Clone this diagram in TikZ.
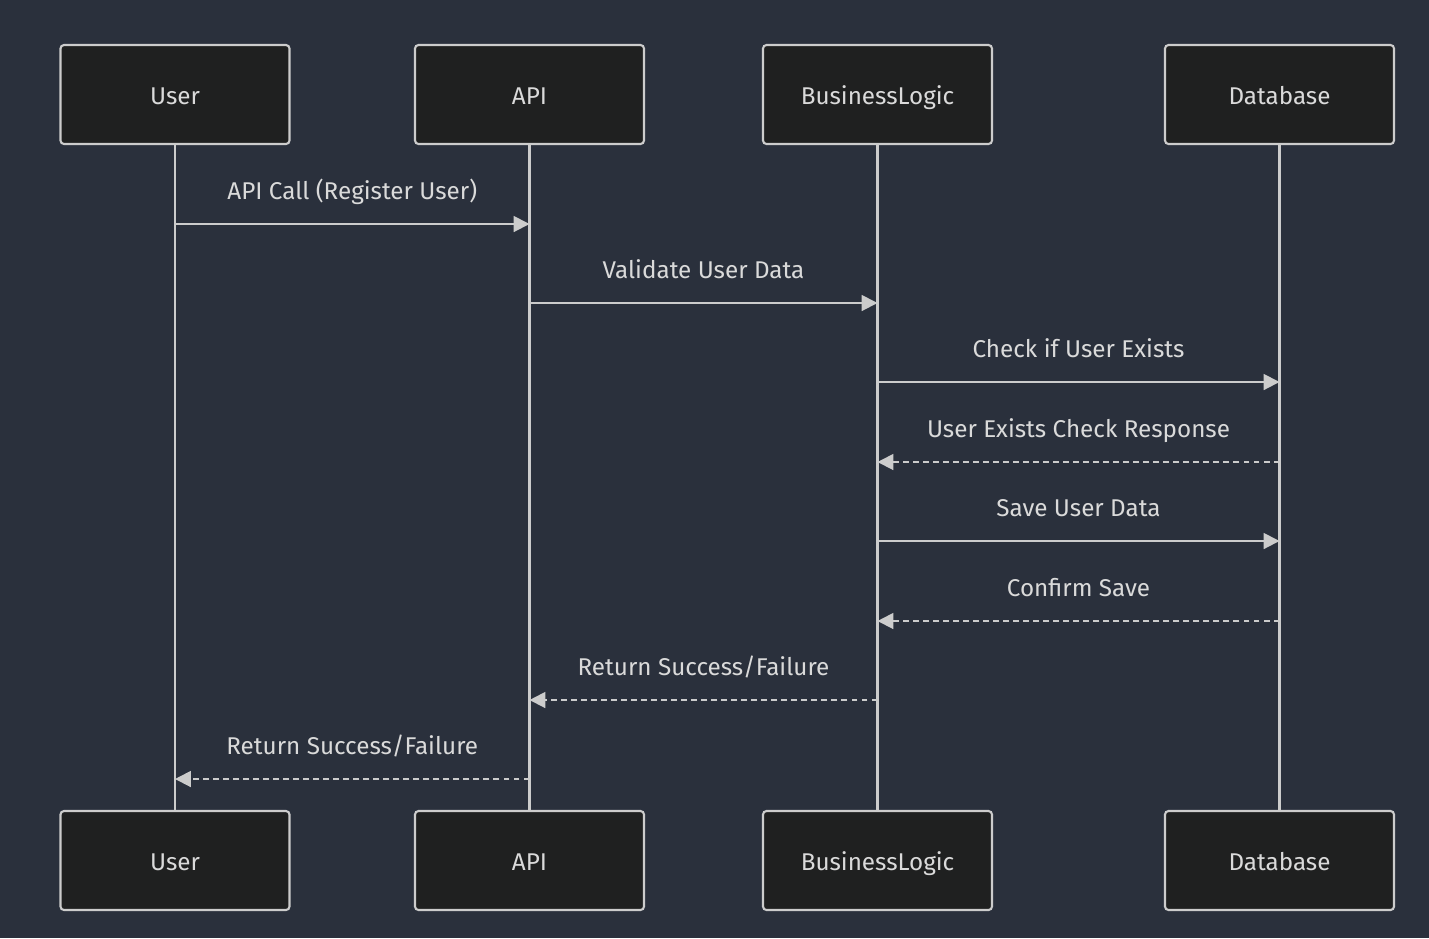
\documentclass[tikz,border=0pt]{standalone}
\usepackage{fontspec}
\setmainfont{Fira Sans}
\definecolor{bgdark}{RGB}{42,48,60}
\definecolor{actorfill}{RGB}{31,32,32}
\definecolor{linegray}{RGB}{204,204,204}
\definecolor{textgray}{RGB}{218,218,218}
\usetikzlibrary{arrows.meta,positioning}
\tikzset{
  actor/.style={draw=linegray, line width=1.2pt, fill=actorfill, rounded corners=2pt,
    minimum width=229*0.02cm, minimum height=99*0.02cm, inner sep=0pt,
    text height=11pt, text depth=0pt,
    font=\fontsize{13.8}{16}\selectfont, text=textgray},
  lifeline/.style={linegray, line width=1.2pt},
  msg/.style={linegray, line width=1.1pt, -{Triangle[length=9pt,width=9pt]}},
  reply/.style={msg, dash pattern=on 3.4pt off 2.3pt},
  msglabel/.style={font=\fontsize{13.8}{16}\selectfont, text=textgray,
    anchor=base, yshift=14pt}
}
\begin{document}
\begin{tikzpicture}[x=0.02cm, y=-0.02cm]
  % Background
  \fill[bgdark] (0,0) rectangle (1429,938);
  \useasboundingbox (0,0) rectangle (1429,938);

  % Participants (top)
  \node[actor] (userT) at (175,94.5) {User};
  \node[actor] (apiT) at (529.5,94.5) {API};
  \node[actor] (logicT) at (877.5,94.5) {BusinessLogic};
  \node[actor] (dbT) at (1279.5,94.5) {Database};

  % Participants (bottom)
  \node[actor] (userB) at (175,860.5) {User};
  \node[actor] (apiB) at (529.5,860.5) {API};
  \node[actor] (logicB) at (877.5,860.5) {BusinessLogic};
  \node[actor] (dbB) at (1279.5,860.5) {Database};

  % Lifelines
  \draw[lifeline] (userT) -- (userB);
  \draw[lifeline] (apiT) -- (apiB);
  \draw[lifeline] (logicT) -- (logicB);
  \draw[lifeline] (dbT) -- (dbB);

  % Messages
  \draw[msg] (userT.south |- 0,224) -- (apiT.south |- 0,224)
    node[msglabel, midway] {API Call (Register User)};
  \draw[msg] (apiT.south |- 0,303) -- (logicT.south |- 0,303)
    node[msglabel, midway] {Validate User Data};
  \draw[msg] (logicT.south |- 0,382) -- (dbT.south |- 0,382)
    node[msglabel, midway] {Check if User Exists};
  \draw[reply] (dbT.south |- 0,462) -- (logicT.south |- 0,462)
    node[msglabel, midway] {User Exists Check Response};
  \draw[msg] (logicT.south |- 0,541) -- (dbT.south |- 0,541)
    node[msglabel, midway] {Save User Data};
  \draw[reply] (dbT.south |- 0,621) -- (logicT.south |- 0,621)
    node[msglabel, midway] {Confirm Save};
  \draw[reply] (logicT.south |- 0,700) -- (apiT.south |- 0,700)
    node[msglabel, midway] {Return Success/Failure};
  \draw[reply] (apiT.south |- 0,779) -- (userT.south |- 0,779)
    node[msglabel, midway] {Return Success/Failure};
\end{tikzpicture}
\end{document}
